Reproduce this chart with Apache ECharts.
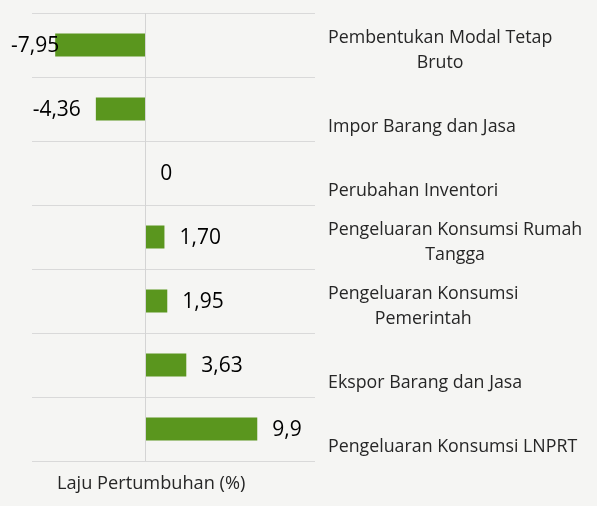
<!DOCTYPE html>
<html>
<head>
<meta charset="utf-8">
<script src="https://cdn.jsdelivr.net/npm/echarts@6/dist/echarts.min.js"></script>
<style>
html,body{margin:0;padding:0;background:#f5f5f3;}
#c{width:597px;height:506px;}
</style>
</head>
<body>
<div id="c"></div>
<script>
const categories = [
  "Pembentukan Modal Tetap\nBruto",
  "Impor Barang dan Jasa",
  "Perubahan Inventori",
  "Pengeluaran Konsumsi Rumah\nTangga",
  "Pengeluaran Konsumsi\nPemerintah",
  "Ekspor Barang dan Jasa",
  "Pengeluaran Konsumsi LNPRT"
];
const values = [-7.95, -4.36, 0, 1.70, 1.95, 3.63, 9.9];
const valueLabels = ["-7,95", "-4,36", "0", "1,70", "1,95", "3,63", "9,9"];
const axisTitle = "Laju Pertumbuhan (%)";

const FONT = "Open Sans";
const chart = echarts.init(document.getElementById('c'), null, {renderer: 'canvas'});

const seriesData = values.map((v, i) => {
  const item = {value: v, label: {formatter: valueLabels[i]}};
  if (v < 0) {
    item.label.position = 'left';
    if (v < -6) item.label.distance = -4;
  }
  return item;
});

chart.setOption({
  backgroundColor: '#f5f5f3',
  animation: false,
  grid: {left: 32, right: 282, top: 13, bottom: 45, containLabel: false},
  xAxis: {
    type: 'value', min: -10, max: 15, interval: 5,
    axisLabel: {show: false}, axisLine: {show: false}, axisTick: {show: false},
    splitLine: {show: false}
  },
  yAxis: {
    type: 'category', inverse: true, position: 'right',
    data: categories.map(c => c.split('\n').map(s => '{c|' + s + '}').join('\n')),
    axisLine: {show: false}, axisTick: {show: false},
    splitLine: {show: true, lineStyle: {color: '#d9d9d9', width: 1}},
    axisLabel: {
      margin: 13, align: 'left', verticalAlign: 'bottom',
      padding: [0, 0, -30, 0],
      rich: {c: {align: 'center', fontFamily: FONT, fontSize: 17.8, color: '#262626', lineHeight: 25}}
    }
  },
  series: [{
    type: 'bar', data: seriesData, barWidth: 23,
    itemStyle: {color: '#5a961e'},
    label: {show: true, position: 'right', distance: 15, offset: [0, 1.5], color: '#000', fontFamily: FONT, fontSize: 21},
    markLine: {
      silent: true, symbol: 'none', label: {show: false},
      lineStyle: {color: '#d4d4d4', type: 'solid', width: 1},
      data: [{xAxis: 0}]
    }
  }],
  graphic: [{
    type: 'text', left: 57, top: 475,
    style: {text: axisTitle, fontFamily: FONT, fontSize: 18.2, fill: '#262626'}
  }]
});
</script>
</body>
</html>
